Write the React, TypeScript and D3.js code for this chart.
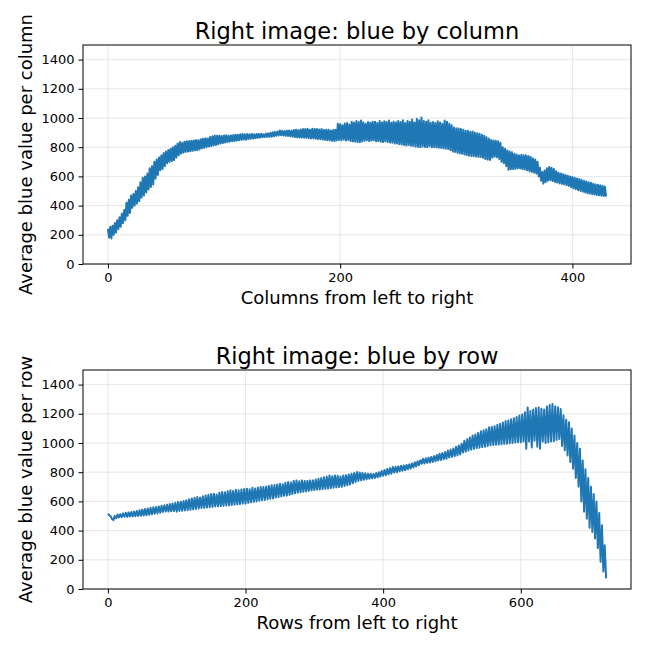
import { useRef, useEffect } from 'react';
import * as d3 from 'd3';

// average blue value per column, one value per column (0..429)
const colStep = 1;
const colValues = [
  240, 180, 255, 175, 262, 200, 280, 215, 300, 240,
  320, 255, 345, 280, 370, 300, 420, 330, 440, 350,
  470, 385, 480, 400, 500, 414, 525, 430, 560, 455,
  590, 470, 600, 490, 620, 510, 655, 528, 670, 545,
  700, 585, 715, 610, 730, 642, 744, 650, 760, 670,
  770, 690, 780, 700, 790, 705, 800, 712, 810, 730,
  825, 745, 835, 756, 830, 762, 838, 768, 840, 770,
  842, 772, 845, 775, 846, 778, 850, 780, 848, 785,
  855, 792, 858, 795, 862, 800, 860, 805, 870, 808,
  875, 812, 880, 815, 878, 820, 880, 825, 876, 828,
  880, 832, 882, 835, 878, 838, 880, 840, 884, 842,
  886, 845, 885, 848, 888, 850, 890, 852, 888, 851,
  890, 856, 888, 858, 890, 860, 888, 862, 890, 864,
  890, 866, 892, 868, 888, 870, 893, 870, 895, 872,
  898, 872, 902, 875, 905, 878, 908, 880, 915, 882,
  912, 880, 910, 878, 914, 876, 915, 875, 912, 872,
  918, 870, 920, 868, 916, 866, 922, 866, 924, 865,
  925, 864, 926, 862, 920, 860, 927, 860, 925, 858,
  925, 856, 922, 855, 924, 852, 918, 850, 920, 848,
  919, 846, 915, 844, 918, 842, 920, 846, 960, 850,
  958, 848, 950, 852, 962, 846, 965, 850, 955, 842,
  975, 840, 968, 838, 980, 836, 972, 835, 983, 840,
  970, 845, 960, 848, 972, 842, 968, 846, 975, 848,
  975, 840, 965, 842, 980, 838, 970, 835, 978, 840,
  972, 836, 983, 832, 968, 830, 975, 826, 970, 825,
  980, 820, 972, 818, 985, 815, 965, 812, 980, 815,
  975, 810, 990, 808, 970, 805, 995, 802, 985, 800,
  1003, 805, 980, 802, 975, 800, 985, 806, 968, 800,
  972, 800, 965, 798, 978, 796, 970, 794, 960, 792,
  983, 790, 975, 788, 960, 780, 950, 770, 935, 767,
  930, 762, 928, 758, 925, 755, 920, 750, 912, 746,
  912, 742, 905, 740, 908, 738, 900, 736, 895, 734,
  892, 733, 885, 728, 878, 720, 869, 715, 860, 712,
  850, 728, 846, 735, 845, 732, 840, 720, 830, 700,
  800, 690, 790, 670, 778, 645, 770, 650, 765, 650,
  755, 652, 750, 656, 744, 654, 748, 650, 745, 648,
  744, 642, 740, 636, 735, 630, 722, 625, 715, 619,
  700, 600, 660, 570, 630, 551, 640, 560, 655, 570,
  665, 575, 660, 568, 650, 562, 635, 558, 625, 552,
  620, 548, 615, 545, 610, 540, 605, 535, 600, 525,
  596, 518, 590, 512, 585, 505, 582, 500, 575, 495,
  570, 490, 565, 485, 560, 482, 556, 478, 550, 476,
  545, 472, 542, 470, 540, 468, 535, 465, 530, 462,
];

// average blue value per row, sampled every 2 rows (0..724)
const rowStep = 2;
const rowValues = [
  515, 505, 498, 480, 472, 500, 485, 510, 490, 512,
  492, 518, 495, 522, 494, 525, 496, 528, 497, 530,
  499, 535, 500, 540, 502, 545, 504, 548, 505, 552,
  508, 556, 512, 560, 515, 562, 518, 566, 522, 570,
  528, 573, 530, 578, 530, 582, 532, 585, 534, 590,
  530, 596, 535, 598, 536, 603, 538, 608, 540, 615,
  542, 620, 545, 625, 548, 630, 552, 626, 555, 635,
  556, 640, 558, 645, 560, 650, 562, 653, 565, 648,
  566, 660, 568, 665, 570, 662, 572, 670, 573, 676,
  575, 672, 578, 680, 580, 676, 582, 682, 585, 685,
  585, 687, 590, 684, 594, 693, 597, 688, 600, 695,
  605, 698, 608, 699, 610, 702, 614, 706, 618, 710,
  620, 712, 626, 716, 630, 721, 634, 718, 638, 728,
  640, 733, 645, 730, 650, 740, 655, 744, 660, 738,
  662, 744, 666, 740, 668, 742, 672, 744, 676, 744,
  678, 750, 680, 755, 682, 760, 684, 765, 686, 770,
  687, 778, 690, 772, 694, 778, 696, 775, 698, 770,
  700, 778, 706, 780, 710, 785, 716, 790, 725, 795,
  733, 801, 740, 798, 745, 795, 748, 792, 752, 790,
  755, 790, 758, 788, 760, 795, 765, 800, 770, 808,
  775, 815, 780, 822, 785, 828, 790, 835, 798, 838,
  800, 840, 806, 844, 810, 846, 814, 850, 820, 855,
  825, 860, 832, 868, 840, 875, 848, 882, 858, 892,
  860, 895, 864, 900, 866, 905, 870, 910, 875, 918,
  880, 926, 884, 932, 888, 938, 892, 948, 900, 955,
  905, 962, 910, 975, 915, 983, 922, 995, 935, 1015,
  940, 1025, 948, 1038, 955, 1051, 960, 1058, 965, 1068,
  968, 1080, 972, 1088, 975, 1095, 980, 1108, 985, 1110,
  986, 1115, 988, 1125, 990, 1132, 992, 1140, 994, 1150,
  995, 1154, 998, 1162, 1000, 1170, 1003, 1178, 1005, 1188,
  1005, 1195, 1010, 1210, 960, 1244, 1010, 1220, 970, 1230,
  1015, 1240, 975, 1244, 960, 1235, 1010, 1230, 1000, 1250,
  1005, 1260, 1010, 1267, 1012, 1250, 1020, 1245, 1028, 1233,
  980, 1190, 950, 1160, 915, 1142, 870, 1100, 824, 1051,
  760, 1000, 700, 960, 600, 880, 530, 820, 482, 760,
  420, 700, 390, 650, 346, 600, 280, 520, 186, 437,
  120, 300, 73,
];

const yTicks = [0, 200, 400, 600, 800, 1000, 1200, 1400];
const colTicks = [0, 200, 400];
const rowTicks = [0, 200, 400, 600];

const W = 654;
const H = 653;
const FONT = 'DejaVu Sans, sans-serif';

interface PanelSpec {
  top: number;
  values: number[];
  step: number;
  xTicks: number[];
  title: string;
  xLabel: string;
  yLabel: string;
}

const panels: PanelSpec[] = [
  {
    top: 45,
    values: colValues,
    step: colStep,
    xTicks: colTicks,
    title: 'Right image: blue by column',
    xLabel: 'Columns from left to right',
    yLabel: 'Average blue value per column',
  },
  {
    top: 370,
    values: rowValues,
    step: rowStep,
    xTicks: rowTicks,
    title: 'Right image: blue by row',
    xLabel: 'Rows from left to right',
    yLabel: 'Average blue value per row',
  },
];

export default function App() {
  const svgRef = useRef<SVGSVGElement>(null);

  useEffect(() => {
    if (!svgRef.current) return;
    const svg = d3.select(svgRef.current);
    svg.selectAll('*').remove();

    const left = 83;
    const right = 631;
    const plotH = 219;

    panels.forEach((p) => {
      const last = (p.values.length - 1) * p.step;
      const pad = last * 0.05;
      const x = d3.scaleLinear().domain([-pad, last + pad]).range([left, right]);
      const y = d3.scaleLinear().domain([0, 1500]).range([p.top + plotH, p.top]);

      const g = svg.append('g');

      // grid
      g.selectAll('line.hgrid')
        .data(yTicks)
        .join('line')
        .attr('x1', left)
        .attr('x2', right)
        .attr('y1', (d) => y(d))
        .attr('y2', (d) => y(d))
        .attr('stroke', '#b0b0b0')
        .attr('stroke-opacity', 0.3)
        .attr('stroke-width', 1);
      g.selectAll('line.vgrid')
        .data(p.xTicks)
        .join('line')
        .attr('x1', (d) => x(d))
        .attr('x2', (d) => x(d))
        .attr('y1', p.top)
        .attr('y2', p.top + plotH)
        .attr('stroke', '#b0b0b0')
        .attr('stroke-opacity', 0.3)
        .attr('stroke-width', 1);

      // line
      const line = d3
        .line<number>()
        .x((_, i) => x(i * p.step))
        .y((d) => y(d));
      g.append('path')
        .datum(p.values)
        .attr('d', line)
        .attr('fill', 'none')
        .attr('stroke', '#1f77b4')
        .attr('stroke-width', 2)
        .attr('stroke-linejoin', 'round');

      // frame
      g.append('rect')
        .attr('x', left)
        .attr('y', p.top)
        .attr('width', right - left)
        .attr('height', plotH)
        .attr('fill', 'none')
        .attr('stroke', '#000')
        .attr('stroke-width', 1);

      // axes
      const xAxis = d3
        .axisBottom(x)
        .tickValues(p.xTicks)
        .tickSize(4.5)
        .tickPadding(4)
        .tickFormat((d) => String(d));
      const xg = g
        .append('g')
        .attr('transform', `translate(0,${p.top + plotH})`)
        .call(xAxis);
      const yAxis = d3
        .axisLeft(y)
        .tickValues(yTicks)
        .tickSize(4.5)
        .tickPadding(4)
        .tickFormat((d) => String(d));
      const yg = g.append('g').attr('transform', `translate(${left},0)`).call(yAxis);

      [xg, yg].forEach((ax) => {
        ax.select('.domain').remove();
        ax.selectAll('text').attr('font-family', FONT).attr('font-size', 13).attr('fill', '#000');
        ax.selectAll('line').attr('stroke', '#000').attr('stroke-width', 1);
      });

      // titles
      g.append('text')
        .attr('x', (left + right) / 2)
        .attr('y', p.top - 6.5)
        .attr('text-anchor', 'middle')
        .attr('font-family', FONT)
        .attr('font-size', 22.5)
        .text(p.title);
      g.append('text')
        .attr('x', (left + right) / 2)
        .attr('y', p.top + plotH + 39.5)
        .attr('text-anchor', 'middle')
        .attr('font-family', FONT)
        .attr('font-size', 18)
        .text(p.xLabel);
      g.append('text')
        .attr('transform', `translate(32,${p.top + plotH / 2}) rotate(-90)`)
        .attr('text-anchor', 'middle')
        .attr('font-family', FONT)
        .attr('font-size', 18)
        .text(p.yLabel);
    });
  }, []);

  return (
    <svg
      ref={svgRef}
      width={W}
      height={H}
      style={{ position: 'absolute', left: 0, top: 0, background: '#fff' }}
    />
  );
}
